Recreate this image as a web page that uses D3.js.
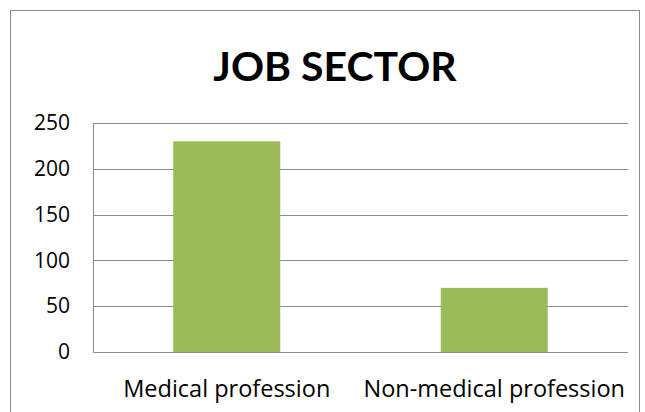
<!DOCTYPE html>
<html>
<head>
<meta charset="utf-8">
<script src="https://cdn.jsdelivr.net/npm/d3@7"></script>
<style>
  body { margin: 0; background: #fff; }
  svg { display: block; font-family: Lato, "Open Sans", sans-serif; }
</style>
</head>
<body>
<svg id="chart" width="645" height="412"></svg>
<script>
  // chart data
  var categories = ["Medical profession", "Non-medical profession"];
  var counts = [230, 70];
  var yTicks = [0, 50, 100, 150, 200, 250];
  var title = "JOB SECTOR";

  var margin = {top: 123, right: 17, bottom: 60, left: 93};
  var width = 645, height = 412;

  var svg = d3.select("#chart");

  // outer frame
  svg.append("rect")
    .attr("x", 10.5).attr("y", 10.5)
    .attr("width", 629).attr("height", 420)
    .attr("fill", "none")
    .attr("stroke", "#8c8c8c")
    .attr("stroke-width", 1);

  svg.append("text")
    .attr("x", 335).attr("y", 81)
    .attr("text-anchor", "middle")
    .attr("font-size", 41)
    .attr("font-weight", "bold")
    .attr("fill", "#000")
    .text(title);

  var g = svg.append("g")
    .attr("transform", "translate(" + margin.left + "," + margin.top + ")");

  var innerW = width - margin.left - margin.right;
  var innerH = 352 - margin.top;

  var x = d3.scaleBand()
    .domain(categories)
    .range([0, innerW]);

  var y = d3.scaleLinear()
    .domain([0, 250])
    .range([innerH, 0]);

  // gridlines
  g.selectAll("line.grid")
    .data(yTicks)
    .enter().append("line")
      .attr("class", "grid")
      .attr("x1", 0).attr("x2", innerW)
      .attr("y1", function(d) { return Math.round(y(d)) + 0.5; })
      .attr("y2", function(d) { return Math.round(y(d)) + 0.5; })
      .attr("stroke", "#8c8c8c")
      .attr("stroke-width", 1);

  // left axis line
  g.append("line")
    .attr("x1", 0.5).attr("x2", 0.5)
    .attr("y1", 0).attr("y2", innerH + 0.5)
    .attr("stroke", "#8c8c8c");

  var yAxis = g.append("g")
    .call(d3.axisLeft(y).tickValues(yTicks).tickSize(0).tickPadding(23));
  yAxis.select(".domain").remove();
  yAxis.selectAll("text")
    .attr("font-size", 21)
    .attr("font-family", "'Open Sans', sans-serif")
    .attr("fill", "#000");

  var barW = x.bandwidth() * 0.4;

  g.selectAll("rect.bar")
    .data(counts)
    .enter().append("rect")
      .attr("class", "bar")
      .attr("x", function(d, i) { return x(categories[i]) + (x.bandwidth() - barW) / 2; })
      .attr("y", function(d) { return y(d); })
      .attr("width", barW)
      .attr("height", function(d) { return innerH - y(d); })
      .attr("fill", "#9bbb59");

  var xAxis = g.append("g")
    .attr("transform", "translate(0," + innerH + ")")
    .call(d3.axisBottom(x).tickSize(0).tickPadding(28));
  xAxis.select(".domain").remove();
  xAxis.selectAll("text")
    .attr("font-size", 23.5)
    .attr("font-family", "'Open Sans', sans-serif")
    .attr("fill", "#000");
</script>
</body>
</html>
